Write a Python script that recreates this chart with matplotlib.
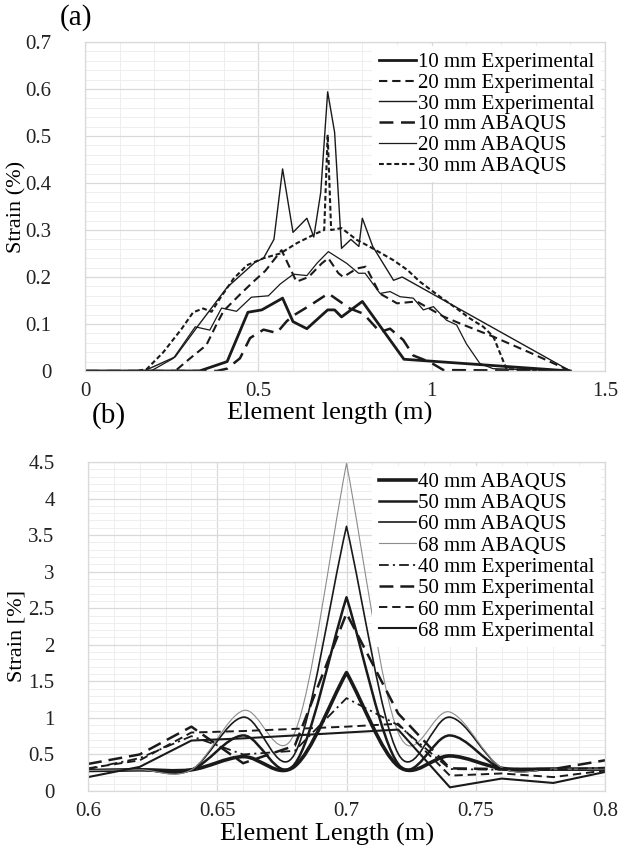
import numpy as np
import matplotlib
matplotlib.use("Agg")
import matplotlib.pyplot as plt
from matplotlib.path import Path
from matplotlib.patches import PathPatch
from matplotlib.lines import Line2D
from matplotlib.ticker import MultipleLocator

plt.rcParams['font.family'] = ['Liberation Serif', 'DejaVu Serif']
plt.rcParams['lines.scale_dashes'] = False

INK = '#1a1a1a'

# ---------------- (a) data: element length (m) vs strain (%) ----------------
x_10_exp = [0, 0.33, 0.41, 0.47, 0.51, 0.57, 0.60, 0.64, 0.70, 0.72, 0.74, 0.80, 0.92, 1.40]
y_10_exp = [0, 0, 0.02, 0.125, 0.13, 0.155, 0.105, 0.09, 0.13, 0.13, 0.115, 0.148, 0.025, 0]

x_20_exp = [0, 0.26, 0.30, 0.35, 0.38, 0.40, 0.45, 0.49, 0.52, 0.567, 0.61, 0.645, 0.683, 0.702,
            0.731, 0.745, 0.784, 0.81, 0.85, 0.90, 0.957, 1.034, 1.082, 1.178, 1.29, 1.40]
y_20_exp = [0, 0, 0.025, 0.055, 0.10, 0.128, 0.165, 0.193, 0.213, 0.257, 0.19, 0.20, 0.229, 0.24,
            0.208, 0.20, 0.218, 0.222, 0.165, 0.144, 0.148, 0.116, 0.101, 0.073, 0.037, 0]

x_30_exp = [0, 0.17, 0.26, 0.33, 0.41, 0.49, 0.515, 0.545, 0.57, 0.60, 0.64, 0.66, 0.68, 0.70,
            0.72, 0.74, 0.767, 0.79, 0.80, 0.83, 0.89, 0.915, 1.40]
y_30_exp = [0, 0, 0.03, 0.10, 0.178, 0.231, 0.24, 0.28, 0.43, 0.295, 0.325, 0.285, 0.38, 0.594,
            0.508, 0.261, 0.28, 0.265, 0.325, 0.265, 0.193, 0.20, 0]

x_10_abq = [0, 0.38, 0.41, 0.447, 0.476, 0.515, 0.553, 0.582, 0.601, 0.65, 0.702, 0.764, 0.803,
            0.851, 0.88, 0.918, 0.947, 0.995, 1.034, 1.40]
y_10_abq = [0, 0, 0.005, 0.027, 0.07, 0.088, 0.081, 0.106, 0.118, 0.14, 0.165, 0.133, 0.122,
            0.083, 0.09, 0.066, 0.033, 0.019, 0.002, 0]

x_20_abq = [0, 0.19, 0.255, 0.318, 0.36, 0.394, 0.437, 0.48, 0.529, 0.563, 0.601, 0.64, 0.67,
            0.702, 0.755, 0.789, 0.808, 0.851, 0.88, 0.909, 0.947, 0.976, 1.005, 1.043, 1.072,
            1.10, 1.139, 1.177, 1.40]
y_20_abq = [0, 0, 0.027, 0.094, 0.087, 0.134, 0.127, 0.157, 0.16, 0.185, 0.206, 0.203, 0.23,
            0.254, 0.229, 0.208, 0.208, 0.165, 0.169, 0.158, 0.155, 0.13, 0.137, 0.108, 0.098,
            0.058, 0.016, 0.005, 0]

x_30_abq = [0, 0.15, 0.178, 0.226, 0.279, 0.312, 0.341, 0.365, 0.389, 0.428, 0.467, 0.515, 0.563,
            0.611, 0.668, 0.69, 0.70, 0.71, 0.74, 0.784, 0.82, 0.889, 0.93, 0.966, 1.024, 1.072,
            1.11, 1.149, 1.178, 1.216, 1.40]
y_30_abq = [0, 0, 0.004, 0.04, 0.09, 0.125, 0.133, 0.126, 0.154, 0.196, 0.225, 0.24, 0.25,
            0.272, 0.293, 0.30, 0.503, 0.30, 0.304, 0.279, 0.265, 0.236, 0.215, 0.19, 0.158, 0.133,
            0.112, 0.094, 0.073, 0.004, 0]

# ---------------- (b) data ----------------
x_b = [0.60, 0.62, 0.64, 0.66, 0.68, 0.70, 0.72, 0.74, 0.76, 0.78, 0.80]
abq_40 = [0.28, 0.29, 0.29, 0.47, 0.34, 1.62, 0.34, 0.48, 0.31, 0.30, 0.30]
abq_50 = [0.28, 0.29, 0.29, 0.76, 0.37, 2.65, 0.37, 0.76, 0.31, 0.30, 0.30]
abq_60 = [0.28, 0.29, 0.29, 1.01, 0.51, 3.62, 0.51, 1.01, 0.32, 0.30, 0.30]
abq_68 = [0.28, 0.29, 0.29, 1.10, 0.80, 4.48, 0.80, 1.08, 0.32, 0.30, 0.30]
exp_40 = [0.30, 0.45, 0.75, 0.50, 0.55, 1.27, 0.90, 0.30, 0.29, 0.29, 0.32]
exp_50 = [0.37, 0.50, 0.88, 0.38, 0.62, 2.43, 1.06, 0.31, 0.30, 0.30, 0.42]
exp_60 = [0.31, 0.42, 0.80, 0.82, 0.85, 0.88, 0.92, 0.21, 0.24, 0.19, 0.28]
exp_68 = [0.19, 0.33, 0.69, 0.72, 0.76, 0.80, 0.84, 0.05, 0.17, 0.11, 0.26]


def smooth_path(xs, ys, corners=()):
    # smoothed line through the points (cubic Bezier), pointed at 'corners'
    n = len(xs)
    verts = [(xs[0], ys[0])]
    codes = [Path.MOVETO]
    for i in range(n - 1):
        j = i + 1
        if i in corners:
            c1 = (xs[i] + (xs[j] - xs[i]) / 3, ys[i] + (ys[j] - ys[i]) / 3)
        else:
            a = max(i - 1, 0)
            c1 = (xs[i] + (xs[j] - xs[a]) / 6, ys[i] + (ys[j] - ys[a]) / 6)
        if j in corners:
            c2 = (xs[j] - (xs[j] - xs[i]) / 3, ys[j] - (ys[j] - ys[i]) / 3)
        else:
            b = min(j + 1, n - 1)
            c2 = (xs[j] - (xs[b] - xs[i]) / 6, ys[j] - (ys[b] - ys[i]) / 6)
        verts += [c1, c2, (xs[j], ys[j])]
        codes += [Path.CURVE4] * 3
    return Path(verts, codes)


def style_axes(ax):
    for s in ax.spines.values():
        s.set_color('#d9d9d9')
        s.set_linewidth(0.9)
    ax.grid(True, which='major', color='#d9d9d9', lw=0.9)
    ax.grid(True, which='minor', color='#eeeeee', lw=0.7)
    ax.set_axisbelow(True)
    ax.tick_params(which='both', length=0, labelsize=15, colors='#222222')
    ax.tick_params(axis='y', pad=24)
    ax.tick_params(axis='x', pad=8)


leg_kw = dict(loc='upper right', fontsize=15, frameon=True, facecolor='white',
              edgecolor='none', framealpha=1, fancybox=False, handlelength=1.8,
              handletextpad=0.1, borderpad=0.3, borderaxespad=0.2)

fig = plt.figure(figsize=(6.32, 8.52), dpi=100)

# ---------------- panel (a) ----------------
ax1 = fig.add_axes([85 / 632, 1 - 371 / 852, 520 / 632, 329 / 852])
style_axes(ax1)
ax1.set_xlim(0, 1.5)
ax1.set_ylim(0, 0.7)
ax1.xaxis.set_minor_locator(MultipleLocator(0.1))
ax1.yaxis.set_minor_locator(MultipleLocator(0.02))
ax1.set_xticks([0, 0.5, 1, 1.5])
ax1.set_xticklabels(['0', '0.5', '1', '1.5'])
ax1.set_yticks(np.arange(0, 0.71, 0.1))
ax1.set_yticklabels(['0', '0.1', '0.2', '0.3', '0.4', '0.5', '0.6', '0.7'])

ax1.plot(x_10_exp, y_10_exp, color=INK, lw=2.0, label='10 mm Experimental')
ax1.plot(x_20_exp, y_20_exp, color=INK, lw=1.5, dashes=(6, 3.5), label='20 mm Experimental')
ax1.plot(x_30_exp, y_30_exp, color=INK, lw=1.0, label='30 mm Experimental')
ax1.plot(x_10_abq, y_10_abq, color=INK, lw=1.8, dashes=(10, 5.5), label='10 mm ABAQUS')
ax1.plot(x_20_abq, y_20_abq, color=INK, lw=0.9, label='20 mm ABAQUS')
ax1.plot(x_30_abq, y_30_abq, color=INK, lw=1.5, dashes=(3.5, 2), label='30 mm ABAQUS')

ax1.legend(labelspacing=0.06, **leg_kw)
ax1.set_xlabel('Element length (m)', fontsize=19)
ax1.xaxis.set_label_coords((330 - 85) / 520, -31 / 329)
ax1.set_ylabel('Strain (%)', fontsize=16)
ax1.yaxis.set_label_coords(-59 / 520, 0.5)
fig.text(60 / 632, 1 - 18 / 852, '(a)', fontsize=21, va='center', ha='left')

# ---------------- panel (b) ----------------
ax2 = fig.add_axes([88 / 632, 1 - 791 / 852, 517 / 632, 329 / 852])
style_axes(ax2)
ax2.set_xlim(0.6, 0.8)
ax2.set_ylim(0, 4.5)
ax2.xaxis.set_minor_locator(MultipleLocator(0.01))
ax2.yaxis.set_minor_locator(MultipleLocator(0.1))
ax2.set_xticks([0.6, 0.65, 0.7, 0.75, 0.8])
ax2.set_xticklabels(['0.6', '0.65', '0.7', '0.75', '0.8'])
ax2.set_yticks(np.arange(0, 4.51, 0.5))
ax2.set_yticklabels(['0', '0.5', '1', '1.5', '2', '2.5', '3', '3.5', '4', '4.5'])

abq_styles = [(abq_40, '40 mm ABAQUS', INK, 2.6),
              (abq_50, '50 mm ABAQUS', INK, 1.8),
              (abq_60, '60 mm ABAQUS', INK, 1.2),
              (abq_68, '68 mm ABAQUS', '#8c8c8c', 0.8)]
handles = []
peak = x_b.index(0.70)
for ys, lab, col, lw in abq_styles:
    ax2.add_patch(PathPatch(smooth_path(x_b, ys, corners=(peak,)), fill=False,
                            edgecolor=col, lw=lw, capstyle='round', joinstyle='round'))
    handles.append(Line2D([], [], color=col, lw=lw, label=lab))

exp_styles = [(exp_40, '40 mm Experimental', 1.3, (7, 3, 1.5, 3)),
              (exp_50, '50 mm Experimental', 1.8, (10, 5)),
              (exp_60, '60 mm Experimental', 1.4, (6, 3.5)),
              (exp_68, '68 mm Experimental', 1.5, None)]
for ys, lab, lw, ds in exp_styles:
    if ds is None:
        ln, = ax2.plot(x_b, ys, color=INK, lw=lw, label=lab)
    else:
        ln, = ax2.plot(x_b, ys, color=INK, lw=lw, dashes=ds, label=lab)
    handles.append(ln)

ax2.legend(handles=handles, labelspacing=0.08, **leg_kw)
ax2.set_xlabel('Element Length (m)', fontsize=19)
ax2.xaxis.set_label_coords((327 - 88) / 517, -32 / 329)
ax2.set_ylabel('Strain [%]', fontsize=16)
ax2.yaxis.set_label_coords(-61 / 517, 0.47)
fig.text(92 / 632, 1 - 416 / 852, '(b)', fontsize=21, va='center', ha='left')

fig.savefig('out.png', dpi=100)
